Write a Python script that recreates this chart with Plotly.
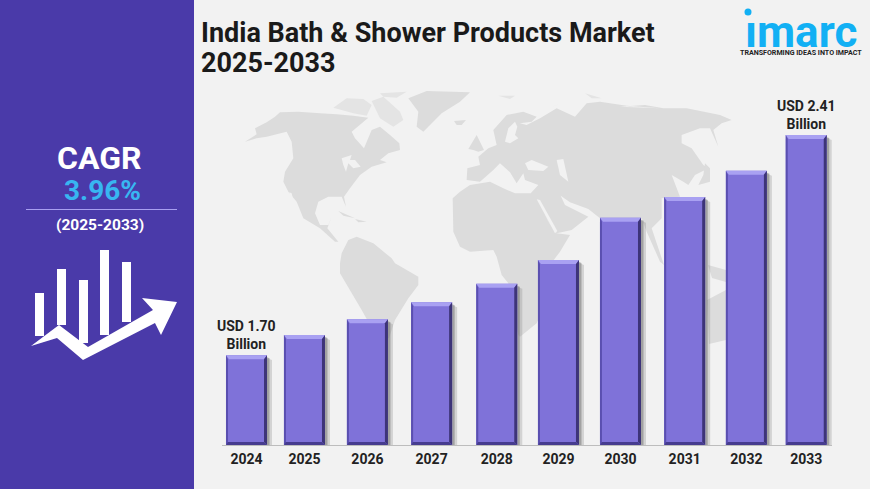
import plotly.graph_objects as go

W, H = 870, 489

# chart data
years = [2024, 2025, 2026, 2027, 2028, 2029, 2030, 2031, 2032, 2033]
values = [1.70, 1.765, 1.816, 1.871, 1.93, 2.007, 2.143, 2.21, 2.295, 2.41]
label_2024 = "USD 1.70<br>Billion"
label_2033 = "USD 2.41<br>Billion"

# the bars in the original are not quite evenly spaced
bar_shift = [0, -0.07, -0.06, -0.03, 0.015, 0.005, 0, 0.03, 0.02, -0.02]
bar_x = [y + s for y, s in zip(years, bar_shift)]
bar_w = 0.658

# axis scale
px_per_year = 62.33
val_per_px = 0.003227
y_base = 1.41
x0 = 2024 + (222 - 246.5) / px_per_year
x1 = 2024 + (832 - 246.5) / px_per_year
y1 = y_base + 445 * val_per_px

BG = "#f2f2f2"
MAP = "#dcdcdc"
MAP_FAINT = "#e4e4e4"
PANEL = "#4a3aa9"
FACE = "#7f72d9"
FONT = "Roboto"


def px(x, y):
    return x / W, 1 - y / H


def poly_paper(pts, color, layer="below"):
    path = ""
    for i, (a, b) in enumerate(pts):
        u, v = px(a, b)
        path += ("M" if i == 0 else "L") + f"{u:.5f},{v:.5f} "
    return dict(type="path", path=path + "Z", xref="paper", yref="paper",
                fillcolor=color, line=dict(width=0), layer=layer)


def crop(ox, oy, pts):
    # outlines were traced on 3x crops of the map
    return [(ox + a / 3, oy + b / 3) for a, b in pts]


north_america = crop(240, 85, [(15,170),(50,148),(45,130),(80,112),(105,95),(120,82),(175,80),(240,85),(290,88),
    (340,92),(385,98),(335,140),(345,160),(372,190),(395,135),(420,125),(450,150),(478,175),(480,195),(445,205),
    (420,225),(440,232),(395,245),(360,270),(330,310),(312,335),(318,365),(305,335),(265,335),(235,350),(225,385),
    (240,420),(265,420),(275,395),(262,430),(295,470),(285,470),(240,430),(190,400),(170,350),(145,320),(130,290),
    (135,260),(160,220),(155,170),(140,140),(80,155),(50,160)])
arctic_a = crop(240, 85, [(280,68),(320,40),(370,42),(395,60),(380,92),(340,85)])
arctic_b = crop(240, 85, [(395,48),(430,35),(480,80),(490,105),(460,125),(420,100)])
arctic_c = crop(240, 85, [(420,25),(500,20),(470,38),(430,35)])
greenland = crop(240, 85, [(505,40),(560,18),(690,22),(660,50),(605,85),(550,140),(530,125),(535,80)])
iceland = crop(240, 85, [(642,108),(678,105),(665,120),(650,120)])
cuba = crop(240, 85, [(295,378),(345,400),(310,392)])
hispaniola = crop(240, 85, [(345,402),(380,410),(355,412)])
south_america = crop(320, 220, [(60,130),(65,100),(85,60),(110,50),(160,70),(215,115),(225,130),(295,170),(295,195),
    (265,235),(225,300),(207,355),(170,350),(125,270),(60,160)])
africa = crop(460, 85, [(-22,340),(0,320),(30,300),(90,290),(130,310),(165,325),(225,325),(235,345),(265,410),
    (290,445),(330,450),(300,500),(270,540)]) + crop(320, 220, [(700,200),(650,310),(600,350),(595,345),(565,190),
    (545,165),(530,110),(520,90),(450,95),(420,80),(400,35)])
eurasia = crop(460, 85, [(20,285),(22,250),(60,240),(55,215),(85,190),(110,180),(100,135),(140,90),(190,80),(230,95),
    (215,110),(180,115),(200,120),(240,100),(290,70),(345,95),(380,55),(420,50),(500,62),(600,70)]) + \
    crop(620, 85, [(0,65),(75,60),(130,70),(200,70),(300,90),(335,105),(305,115),(280,135),(295,185),(270,130),
    (240,130),(185,150),(185,175),(215,190),(250,240),(265,250),(225,270),(205,300),(190,290),(155,270),(180,335),
    (125,340),(125,400),(95,430)]) + \
    crop(460, 85, [(612,540),(600,530),(560,440),(545,400),(480,520),(420,400),(385,372),(330,352),(302,332),(315,360),
    (385,395),(335,435),(290,445),(265,410),(232,345),(212,325),(235,300),(195,285),(190,265),(170,295),(150,262),
    (120,235),(100,255),(60,290)])
uk = crop(460, 85, [(25,192),(50,150),(72,195),(55,200),(40,195)])
svalbard = crop(460, 85, [(115,32),(165,32),(150,42)])
novaya = crop(460, 85, [(270,70),(310,50),(285,62)])
siberia_isl = crop(460, 85, [(375,25),(425,40),(395,40)])
japan = crop(620, 85, [(235,300),(270,290),(270,250),(255,235),(250,270)])
indonesia = [(708, 265), (726, 270), (726, 282), (712, 278)]
australia = [(707, 300), (726, 290), (726, 340), (709, 344)]
land = [north_america, greenland, iceland, cuba, hispaniola, south_america, africa, eurasia, uk, japan, indonesia,
        australia]
faint_land = [arctic_a, arctic_b, arctic_c, svalbard, novaya, siberia_isl]

# inland water cut back out of the land
gulf_california = crop(240, 85, [(148,322),(155,325),(168,380),(160,375)])
great_lakes = crop(240, 85, [(305,220),(335,210),(330,225),(345,225),(362,245),(340,250),(325,235),(318,260),(310,240)])
black_sea = crop(460, 85, [(195,235),(215,225),(265,245),(250,258),(205,255)])
caspian = crop(460, 85, [(290,225),(310,222),(325,290),(300,270)])
baltic = crop(460, 85, [(135,170),(145,130),(165,110),(172,125),(165,150),(175,160),(150,175)])
red_sea = crop(460, 85, [(230,343),(240,345),(292,438),(285,445)])
water = [gulf_california, great_lakes, black_sea, caspian, baltic, red_sea]

shapes = []
for p in land:
    shapes.append(poly_paper(p, MAP))
for p in faint_land:
    shapes.append(poly_paper(p, MAP_FAINT))
for p in water:
    shapes.append(poly_paper(p, BG))

# left panel
shapes.append(dict(type="rect", xref="paper", yref="paper", x0=0, x1=194 / W, y0=0, y1=1,
                   fillcolor=PANEL, line=dict(width=0), layer="below"))
shapes.append(dict(type="line", xref="paper", yref="paper", x0=26 / W, x1=177 / W,
                   y0=1 - 209.5 / H, y1=1 - 209.5 / H, line=dict(color="#a89ff0", width=1), layer="below"))
icon_bars = [(35, 293, 44, 336), (57, 269, 66, 325), (79, 280, 88, 343), (100, 250, 109, 335), (122, 262, 131, 322)]
for a, b, c, d in icon_bars:
    shapes.append(poly_paper([(a, b), (c, b), (c, d), (a, d)], "white"))
arrow = [(31, 346), (59, 325), (88, 347), (153, 310), (142, 298), (177, 302), (161, 335), (155, 323),
         (83, 360), (57, 338)]
shapes.append(poly_paper(arrow, "white"))

# logo dot
shapes.append(dict(type="circle", xref="paper", yref="paper", x0=744.5 / W, x1=751.5 / W,
                   y0=1 - 15.5 / H, y1=1 - 8.5 / H, fillcolor="#12b0f4", line=dict(width=0)))

# bevel on the bars
dx = 1 / px_per_year
dy = val_per_px


def poly_data(pts, color, opacity=1.0, layer="above"):
    path = ""
    for i, (a, b) in enumerate(pts):
        path += ("M" if i == 0 else "L") + f"{a:.4f},{b:.4f} "
    return dict(type="path", path=path + "Z", xref="x", yref="y", fillcolor=color, opacity=opacity,
                line=dict(width=0), layer=layer)


for x, v in zip(bar_x, values):
    l, r = x - bar_w / 2, x + bar_w / 2
    # soft shadow to the right
    shapes.append(poly_data([(r, v - 3 * dy), (r + 5 * dx, v - 5 * dy), (r + 5 * dx, y_base), (r, y_base)], "#8a8a8a", 0.3, "below"))
    shapes.append(poly_data([(r, v - 2 * dy), (r + 2.5 * dx, v - 3 * dy), (r + 2.5 * dx, y_base), (r, y_base)], "#666666", 0.45, "below"))
    # top, right, left and bottom edges
    shapes.append(poly_data([(l, v), (r, v), (r - 3 * dx, v - 4 * dy), (l + 3 * dx, v - 4 * dy)], "#a9a1f2"))
    shapes.append(poly_data([(r, v), (r, y_base), (r - 3 * dx, y_base + 3 * dy), (r - 3 * dx, v - 4 * dy)], "#3d3478"))
    shapes.append(poly_data([(l, v), (l, y_base), (l + 2 * dx, y_base + 2 * dy), (l + 2 * dx, v - 4 * dy)], "#5a4fb0"))
    shapes.append(poly_data([(l, y_base), (r, y_base), (r - 3 * dx, y_base + 3 * dy), (l + 2 * dx, y_base + 3 * dy)], "#463c8f"))

fig = go.Figure()
fig.add_trace(go.Bar(x=bar_x, y=values, width=bar_w, marker=dict(color=FACE, line=dict(width=0)),
                     hoverinfo="skip", showlegend=False))

annotations = [
    dict(x=bar_x[0], y=values[0], xref="x", yref="y", yanchor="bottom", text=f"<b>{label_2024}</b>", showarrow=False,
         font=dict(family=FONT, size=14, color="#222222"), yshift=1),
    dict(x=bar_x[-1], y=values[-1], xref="x", yref="y", yanchor="bottom", text=f"<b>{label_2033}</b>", showarrow=False,
         font=dict(family=FONT, size=14, color="#222222"), yshift=1),
]


def paper_text(x, y, text, size, color, anchor="center"):
    u, v = px(x, y)
    return dict(x=u, y=v, xref="paper", yref="paper", xanchor=anchor, yanchor="middle", text=text, showarrow=False,
                font=dict(family=FONT, size=size, color=color))


annotations += [
    paper_text(99, 158, "<b>CAGR</b>", 32, "white"),
    paper_text(102.5, 190, "<b>3.96%</b>", 28, "#38b6f1"),
    paper_text(100, 225, "<b>(2025-2033)</b>", 15.5, "white"),
    paper_text(199, 33, "<b>India Bath &amp; Shower Products Market</b>", 27, "#1a1a1a", "left"),
    paper_text(199, 63, "<b>2025-2033</b>", 27, "#1a1a1a", "left"),
    paper_text(801, 32, "<b>ımarc</b>", 44, "#12b0f4"),
    paper_text(801, 53, "<b>TRANSFORMING IDEAS INTO IMPACT</b>", 7.1, "#222222"),
]

fig.update_layout(
    width=W, height=H,
    autosize=False,
    margin=dict(l=0, r=0, t=0, b=0),
    paper_bgcolor=BG,
    plot_bgcolor="rgba(0,0,0,0)",
    showlegend=False,
    xaxis=dict(domain=[222 / W, 832 / W], range=[x0, x1], tickvals=bar_x, ticktext=[str(y) for y in years],
               showgrid=False, zeroline=False, showline=True, linecolor="#bdbdbd", linewidth=1,
               ticks="outside", ticklen=1, tickcolor="rgba(0,0,0,0)",
               tickfont=dict(family=FONT, size=14, color="#222222", weight="bold"), fixedrange=True),
    yaxis=dict(domain=[(H - 445) / H, 1], range=[y_base, y1], visible=False, fixedrange=True),
    shapes=shapes,
    annotations=annotations,
)

# the page margin would push the figure off the window
fig.write_html("out.html", config=dict(displayModeBar=False),
               post_script="document.body.style.margin='0';document.body.style.overflow='hidden';")
